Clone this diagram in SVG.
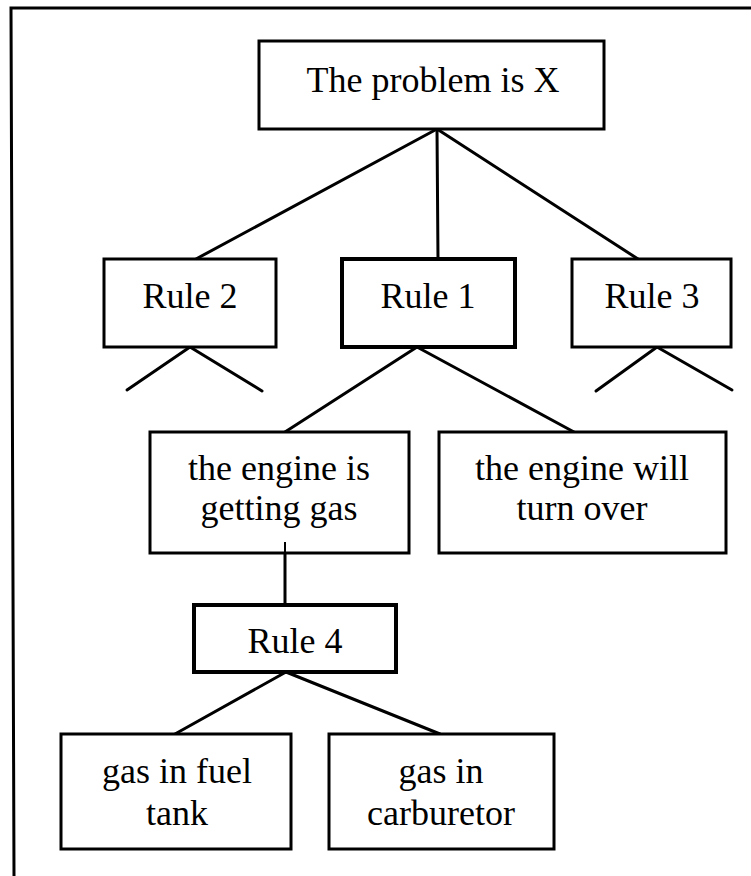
<svg xmlns="http://www.w3.org/2000/svg" width="751" height="876" viewBox="0 0 751 876">
<style>
.box{fill:#fff;stroke:#000;stroke-width:3}
.thick{stroke-width:4}
.lbl{font-family:"Liberation Serif","Times New Roman",serif;font-size:36px;fill:#000;text-anchor:middle}
.edge{stroke:#000;stroke-width:3;fill:none;stroke-linecap:round}
</style>
<rect width="751" height="876" fill="#fff"/>
<path id="frame" d="M751 8 L11 8 L14 876" fill="none" stroke="#000" stroke-width="3"/>
<g id="connectors">
<line class="edge" x1="437" y1="129" x2="196" y2="259"/>
<line class="edge" x1="437" y1="129" x2="438" y2="259"/>
<line class="edge" x1="437" y1="129" x2="638" y2="259"/>
<line class="edge" x1="190" y1="347" x2="127" y2="390"/>
<line class="edge" x1="190" y1="347" x2="262" y2="391"/>
<line class="edge" x1="417" y1="347" x2="285" y2="432"/>
<line class="edge" x1="417" y1="347" x2="574" y2="432"/>
<line class="edge" x1="657" y1="347" x2="596" y2="391"/>
<line class="edge" x1="657" y1="347" x2="732" y2="390"/>
<line class="edge" x1="285" y1="542" x2="285" y2="605" stroke-width="2"/>
<line class="edge" x1="286" y1="672" x2="175" y2="734"/>
<line class="edge" x1="286" y1="672" x2="440" y2="734"/>
</g>
<g id="node-problem">
<rect class="box" x="259" y="41" width="345" height="88"/>
<text class="lbl" x="433" y="92" font-size="37">The problem is X</text>
</g>
<g id="node-rule2">
<rect class="box" x="104" y="259" width="172" height="88"/>
<text class="lbl" x="190" y="308">Rule 2</text>
</g>
<g id="node-rule1">
<rect class="box thick" x="342" y="259" width="173" height="88"/>
<text class="lbl" x="428" y="308">Rule 1</text>
</g>
<g id="node-rule3">
<rect class="box" x="572" y="259" width="159" height="88"/>
<text class="lbl" x="652" y="308">Rule 3</text>
</g>
<g id="node-engine-gas">
<rect class="box" x="150" y="432" width="259" height="121"/>
<line x1="285" y1="542" x2="285" y2="553" stroke="#000" stroke-width="2"/>
<text class="lbl" x="279" y="480">the engine is</text>
<text class="lbl" x="279" y="520">getting gas</text>
</g>
<g id="node-engine-turn">
<rect class="box" x="439" y="432" width="287" height="121"/>
<text class="lbl" x="582" y="480">the engine will</text>
<text class="lbl" x="582" y="520">turn over</text>
</g>
<g id="node-rule4">
<rect class="box thick" x="194" y="605" width="202" height="67"/>
<text class="lbl" x="295" y="653">Rule 4</text>
</g>
<g id="node-fuel-tank">
<rect class="box" x="61" y="734" width="230" height="115"/>
<text class="lbl" x="177" y="783">gas in fuel</text>
<text class="lbl" x="177" y="825">tank</text>
</g>
<g id="node-carburetor">
<rect class="box" x="329" y="734" width="225" height="115"/>
<text class="lbl" x="441" y="783">gas in</text>
<text class="lbl" x="441" y="825">carburetor</text>
</g>
</svg>
